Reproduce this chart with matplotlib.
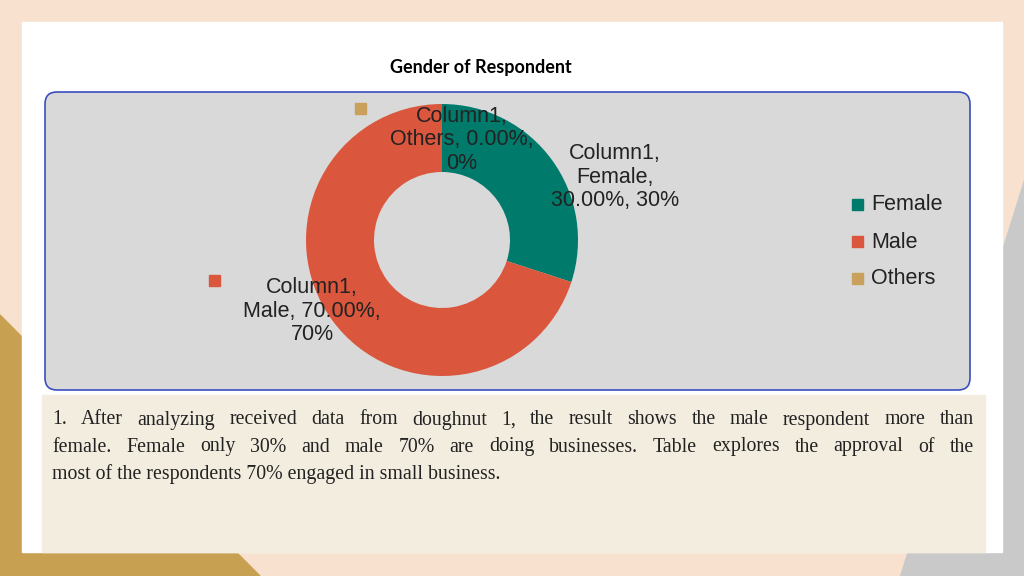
import matplotlib
matplotlib.use("Agg")
import matplotlib.pyplot as plt
from matplotlib.patches import FancyBboxPatch, Rectangle, Polygon

categories = ["Female", "Male", "Others"]
values = [30, 70, 0]
pct_labels = ["30.00%, 30%", "70.00%,\n70%", "0.00%,\n0%"]
colors = ["#007a6b", "#da573d", "#c9a15c"]
title = "Gender of Respondent"
body_lines = ["1. After analyzing received data from doughnut 1, the result shows the male respondent more than",
              "female. Female only 30% and male 70% are doing businesses. Table explores the approval of the",
              "most of the respondents 70% engaged in small business."]

W, H = 1024, 576
fig = plt.figure(figsize=(W/100, H/100), dpi=100)
bg = fig.add_axes([0, 0, 1, 1])
bg.set_xlim(0, W); bg.set_ylim(H, 0); bg.axis("off")
bg.add_patch(Rectangle((0, 0), W, H, color="#f8e2cf"))
bg.add_patch(Polygon([(0, 315), (260, 576), (0, 576)], color="#c8a052"))
bg.add_patch(Polygon([(1024, 180), (1024, 576), (900, 576)], color="#c9c9c9"))
bg.add_patch(Rectangle((22, 22), 980, 530, color="white"))
bg.add_patch(FancyBboxPatch((45, 92), 925, 298, boxstyle="round,pad=0,rounding_size=12",
                            fc="#d9d9d9", ec="#3a4fc0", lw=1.2))
bg.add_patch(Rectangle((42, 395), 943, 157, color="#f3ede0"))
bg.text(481, 68, title, ha="center", va="center", fontsize=13, fontweight="bold", family="Lato")

# donut
r = 136
ax = fig.add_axes([(442-r)/W, 1-(240+r)/H, 2*r/W, 2*r/H])
ax.pie(values, colors=colors, startangle=90, counterclock=False, radius=1,
       wedgeprops=dict(width=0.5, edgecolor="none"))
ax.set_xlim(-1, 1); ax.set_ylim(-1, 1); ax.set_aspect("equal"); ax.axis("off")

top = fig.add_axes([0, 0, 1, 1])
top.set_xlim(0, W); top.set_ylim(H, 0); top.axis("off"); top.patch.set_alpha(0)

for i, (c, col) in enumerate(zip(categories, colors)):
    y = 205 + i*37
    top.add_patch(Rectangle((852, y-6), 11, 11, color=col))
    top.text(871, y, c, va="center", fontsize=15.5, family="Liberation Sans", color="#222")

lab_kw = dict(ha="center", va="center", fontsize=15.5, family="Liberation Sans", color="#222", linespacing=1.15)
top.text(615, 177, "Column1,\n" + categories[0] + ",\n" + pct_labels[0], **lab_kw)
top.text(312, 311, "Column1,\n" + categories[1] + ", " + pct_labels[1], **lab_kw)
top.text(462, 140, "Column1,\n" + categories[2] + ", " + pct_labels[2], **lab_kw)
top.add_patch(Rectangle((355, 103), 11, 11, color=colors[2]))
top.add_patch(Rectangle((209, 275), 11, 11, color=colors[1]))

# justified body text
fig.canvas.draw()
rend = fig.canvas.get_renderer()
x0, x1 = 52, 974
fkw = dict(fontsize=14.3, family="Liberation Serif", color="#222", va="center")
for li, line in enumerate(body_lines):
    y = 420 + li*27
    if li == len(body_lines) - 1:
        top.text(x0, y, line, ha="left", **fkw)
        continue
    words = line.split(" ")
    arts = [top.text(0, y, w, ha="left", **fkw) for w in words]
    widths = [a.get_window_extent(rend).width for a in arts]
    gap = (x1 - x0 - sum(widths)) / (len(words) - 1)
    x = x0
    for a, w in zip(arts, widths):
        a.set_x(x)
        x += w + gap
fig.savefig("out.png", dpi=100)
